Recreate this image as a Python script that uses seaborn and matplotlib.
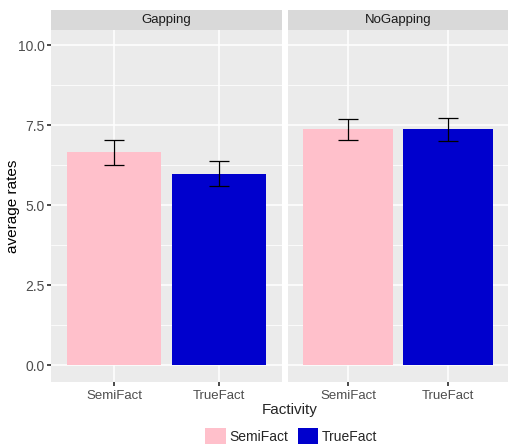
import numpy as np
import pandas as pd
import matplotlib
matplotlib.use("Agg")
import matplotlib.pyplot as plt
import seaborn as sns
from matplotlib.patches import Patch
from matplotlib.ticker import MultipleLocator

# =========================================
# DATA
# =========================================

facets = ["Gapping", "NoGapping"]
factivity = ["SemiFact", "TrueFact"]
mean_gapping = [6.65, 5.97]
mean_nogapping = [7.37, 7.37]
low_gapping = [6.24, 5.58]
high_gapping = [7.04, 6.37]
low_nogapping = [7.02, 7.01]
high_nogapping = [7.69, 7.73]

colors = {"SemiFact": "#FFC0CB", "TrueFact": "#0000CD"}

df = pd.DataFrame({
    "Condition": np.repeat(facets, 2),
    "Factivity": factivity * 2,
    "rate": mean_gapping + mean_nogapping,
    "low": low_gapping + low_nogapping,
    "high": high_gapping + high_nogapping,
})

# =========================================
# PLOT
# =========================================

sns.set_theme(style="darkgrid")
plt.rcParams["font.family"] = ["Liberation Sans", "DejaVu Sans"]

fig = plt.figure(figsize=(5.09, 4.45), dpi=100)
W, H = 509, 445
panels = [(51, 282), (288, 508)]
top_px, bot_px = 30, 382

for i, facet in enumerate(facets):
    x0, x1 = panels[i]
    ax = fig.add_axes([x0 / W, 1 - bot_px / H, (x1 - x0) / W, (bot_px - top_px) / H])
    ax.set_facecolor("#EBEBEB")
    sub = df[df["Condition"] == facet]

    sns.barplot(
        data=sub, x="Factivity", y="rate", hue="Factivity",
        palette=colors, order=factivity, width=0.9, saturation=1,
        errorbar=None, legend=False, ax=ax, zorder=2,
    )
    for p in ax.patches:
        p.set_edgecolor("none")

    xs = np.arange(len(factivity))
    ax.errorbar(
        xs, sub["rate"],
        yerr=[sub["rate"] - sub["low"], sub["high"] - sub["rate"]],
        fmt="none", ecolor="black", elinewidth=0.9, capsize=7.5, capthick=0.9,
        zorder=3,
    )

    ax.set_xlim(-0.6, 1.6)
    ax.set_ylim(-0.53, 10.47)
    ax.yaxis.set_major_locator(MultipleLocator(2.5))
    ax.yaxis.set_minor_locator(MultipleLocator(1.25))
    ax.grid(which="major", color="white", linewidth=1.1, zorder=0)
    ax.grid(which="minor", axis="y", color="white", linewidth=0.55, zorder=0)
    ax.set_axisbelow(True)
    for s in ax.spines.values():
        s.set_visible(False)

    ax.tick_params(axis="x", length=3, color="#333333", labelcolor="#4D4D4D",
                   labelsize=9.5, pad=3, bottom=True)
    ax.tick_params(axis="y", which="major", length=3, color="#333333",
                   labelcolor="#4D4D4D", labelsize=10, pad=1.5, left=(i == 0))
    ax.tick_params(axis="y", which="minor", length=0)
    if i == 0:
        ax.set_yticklabels([f"{v:.1f}" for v in ax.get_yticks()])
        ax.set_ylabel("average rates", fontsize=11, color="black")
        ax.yaxis.set_label_coords(-0.134, 0.5)
    else:
        ax.set_yticklabels([])
        ax.set_ylabel("")
    ax.set_xlabel("")

    # facet strip
    sax = fig.add_axes([x0 / W, 1 - top_px / H, (x1 - x0) / W, 20 / H])
    sax.set_facecolor("#D9D9D9")
    sax.set_xticks([])
    sax.set_yticks([])
    for s in sax.spines.values():
        s.set_visible(False)
    sax.text(0.5, 0.5, facet, ha="center", va="center", fontsize=9.5, color="#1A1A1A",
             transform=sax.transAxes)

fig.text(290 / W, 1 - 410 / H, "Factivity", ha="center", va="center", fontsize=11)

handles = [Patch(facecolor=colors[f], edgecolor="none", label=f) for f in factivity]
fig.legend(handles=handles, loc="center", bbox_to_anchor=(291 / W, 1 - 436 / H),
           ncol=2, frameon=False, fontsize=10, handlelength=1.5, handleheight=1.5,
           handletextpad=0.25, columnspacing=0.7, borderpad=0)

fig.savefig("out.png", dpi=100)
